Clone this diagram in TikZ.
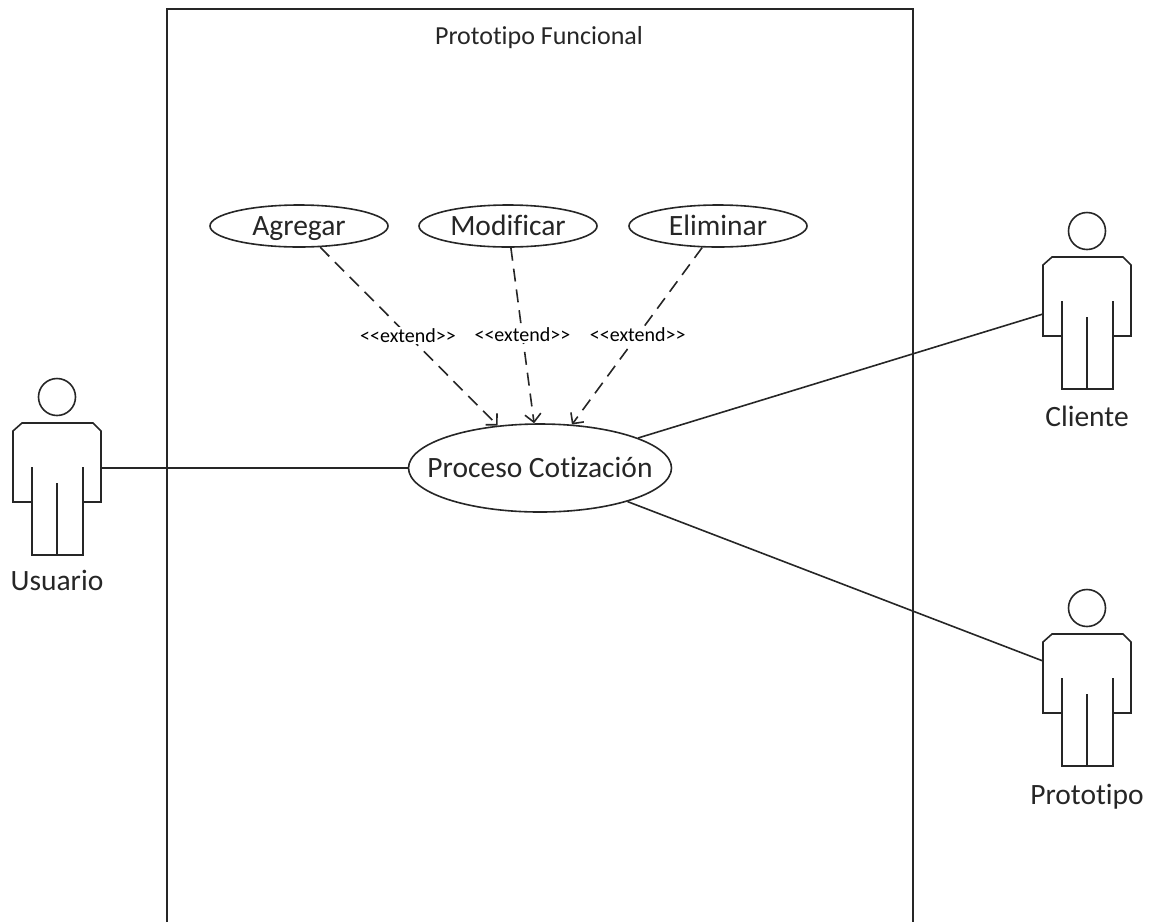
\documentclass[tikz,border=0pt]{standalone}
\usepackage{fontspec}
\setmainfont[Ligatures=CommonOff]{Carlito}
\usetikzlibrary{arrows.meta,shapes.geometric}

\tikzset{
	line/.style={line width=1.6pt, draw=black!85},
	usecase/.style={ellipse, line, fill=white, inner sep=0pt, text height=22pt, text depth=3pt, text=black!85, font=\fontsize{29.5}{31}\selectfont},
	actorlabel/.style={inner sep=0pt, anchor=base, text=black!85, font=\fontsize{29.5}{31}\selectfont},
	extendlabel/.style={fill=white, inner sep=1pt, font=\fontsize{20}{22}\selectfont},
	extend/.style={line, dash pattern=on 13pt off 8pt, -{Straight Barb[length=8pt,width=16pt]}},
	actor/.pic={
		\draw[line] (0,0) circle (18.5);
		\draw[line] (-25,105) -- (-44,105) -- (-44,34) -- (-35,26) -- (36,26) -- (44,34) -- (44,105) -- (26,105);
		\draw[line] (-25,70) -- (-25,158) -- (26,158) -- (26,70);
		\draw[line] (0,86) -- (0,158);
		\coordinate (-right) at (44,71);
	}
}

\begin{document}
\begin{tikzpicture}[x=1pt,y=-1pt]
	\useasboundingbox (0,0) rectangle (1155,922);

	\draw[line] (167,922) -- (167,9) -- (913,9) -- (913,922);
	\node (titulo) [inner sep=0pt, anchor=base, text=black!85, font=\fontsize{26}{28}\selectfont] at (539,44) {Prototipo Funcional};

	% casos de uso
	\node (agregar) [usecase, minimum width=178pt, minimum height=42pt] at (299,226) {\makebox[0pt]{Agregar}};
	\node (modificar) [usecase, minimum width=178pt, minimum height=42pt] at (508,226) {\makebox[0pt]{Modificar}};
	\node (eliminar) [usecase, minimum width=178pt, minimum height=42pt] at (718,226) {\makebox[0pt]{Eliminar}};
	\node (proceso) [usecase, minimum width=263pt, minimum height=88pt] at (540,468) {\makebox[0pt]{Proceso Cotización}};

	% actores
	\pic (usuario) at (57,397) {actor};
	\pic (cliente) at (1087,231) {actor};
	\pic (prototipo) at (1087,608) {actor};
	\node (usuariotxt) [actorlabel] at (57,590) {Usuario};
	\node (clientetxt) [actorlabel] at (1087,426) {Cliente};
	\node (prototipotxt) [actorlabel] at (1087,804) {Prototipo};

	\coordinate (clienteborde) at (1043,314);
	\coordinate (prototipoborde) at (1043,661);

	\draw[line] (usuario-right) -- (proceso);
	\draw[line] (clienteborde) -- (proceso);
	\draw[line] (prototipoborde) -- (proceso);

	\draw[extend] (agregar) -- node (ext1) [extendlabel, pos=0.495] {{<}{<}extend{>}{>}} (proceso);
	\draw[extend] (modificar) -- node (ext2) [extendlabel, pos=0.495] {{<}{<}extend{>}{>}} (proceso);
	\draw[extend] (eliminar) -- node (ext3) [extendlabel, pos=0.495] {{<}{<}extend{>}{>}} (proceso);
\end{tikzpicture}
\end{document}
